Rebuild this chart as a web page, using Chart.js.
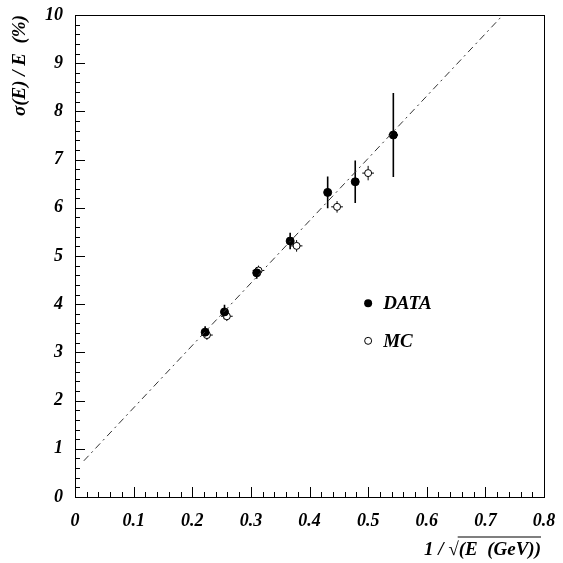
<!DOCTYPE html>
<html>
<head>
<meta charset="utf-8">
<script src="https://cdn.jsdelivr.net/npm/chart.js@4"></script>
<style>
html, body { margin: 0; padding: 0; background: #fff; }
</style>
</head>
<body>
<canvas id="resChart" width="563" height="563"></canvas>
<script>
// values
const dataX = [0.222, 0.255, 0.310, 0.367, 0.431, 0.478, 0.543];
const dataY = [3.42, 3.84, 4.65, 5.31, 6.32, 6.54, 7.51];
const dataYErr = [0.12, 0.15, 0.12, 0.17, 0.33, 0.44, 0.87];
const dataXErr = [0.006, 0.006, 0.006, 0.006, 0.006, 0.006, 0.008];

const mcX = [0.225, 0.259, 0.313, 0.378, 0.447, 0.500];
const mcY = [3.36, 3.75, 4.70, 5.21, 6.02, 6.72];
const mcYErr = [0.10, 0.10, 0.10, 0.12, 0.12, 0.15];
const mcXErr = [0.010, 0.010, 0.010, 0.010, 0.010, 0.010];

// fitted line, end points
const fitX = [0.015, 0.73];
const fitY = [0.75, 10.0];

const xTicks = [0, 0.1, 0.2, 0.3, 0.4, 0.5, 0.6, 0.7, 0.8];
const yTicks = [0, 1, 2, 3, 4, 5, 6, 7, 8, 9, 10];

const legendItems = ['DATA', 'MC'];

const serif = '"Liberation Serif", "DejaVu Serif", serif';

function pairs(xs, ys) {
    return xs.map((x, i) => ({ x: x, y: ys[i] }));
}

const errorBars = {
    id: 'errorBars',
    beforeDatasetsDraw(chart) {
        const ctx = chart.ctx;
        const xs = chart.scales.x, ys = chart.scales.y;
        ctx.save();
        ctx.strokeStyle = '#000';
        chart.data.datasets.forEach(ds => {
            if (!ds.yErr) return;
            ctx.lineWidth = ds.errWidth;
            ds.data.forEach((p, i) => {
                const px = xs.getPixelForValue(p.x);
                const py = ys.getPixelForValue(p.y);
                ctx.beginPath();
                ctx.moveTo(px, ys.getPixelForValue(p.y - ds.yErr[i]));
                ctx.lineTo(px, ys.getPixelForValue(p.y + ds.yErr[i]));
                ctx.moveTo(xs.getPixelForValue(p.x - ds.xErr[i]), py);
                ctx.lineTo(xs.getPixelForValue(p.x + ds.xErr[i]), py);
                ctx.stroke();
            });
        });
        ctx.restore();
    }
};

const frameAndExtras = {
    id: 'frameAndExtras',
    afterDraw(chart) {
        const ctx = chart.ctx;
        const xs = chart.scales.x, ys = chart.scales.y;
        const a = chart.chartArea;
        ctx.save();
        ctx.strokeStyle = '#000';
        ctx.lineWidth = 1;
        ctx.strokeRect(Math.round(a.left) + 0.5, Math.round(a.top) + 0.5,
            Math.round(a.right - a.left), Math.round(a.bottom - a.top));

        // inward ticks on left and bottom
        ctx.beginPath();
        for (let i = 0; i <= 50; i++) {
            const py = Math.round(ys.getPixelForValue(i * 0.2)) + 0.5;
            const len = i % 5 === 0 ? 10 : 5;
            ctx.moveTo(a.left, py);
            ctx.lineTo(a.left + len, py);
        }
        for (let i = 0; i <= 40; i++) {
            const px = Math.round(xs.getPixelForValue(i * 0.02)) + 0.5;
            const len = i % 5 === 0 ? 10 : 5;
            ctx.moveTo(px, a.bottom);
            ctx.lineTo(px, a.bottom - len);
        }
        ctx.stroke();

        // legend inside the plot
        ctx.font = 'bold italic 19px ' + serif;
        ctx.textBaseline = 'middle';
        ctx.textAlign = 'left';
        const lx = xs.getPixelForValue(0.50);
        const ly = [ys.getPixelForValue(4.02), ys.getPixelForValue(3.24)];
        ctx.fillStyle = '#000';
        ctx.beginPath();
        ctx.arc(lx, ly[0], 4, 0, Math.PI * 2);
        ctx.fill();
        ctx.beginPath();
        ctx.arc(lx, ly[1], 3.5, 0, Math.PI * 2);
        ctx.fillStyle = '#fff';
        ctx.fill();
        ctx.stroke();
        ctx.fillStyle = '#000';
        ctx.fillText(legendItems[0], lx + 15, ly[0] + 1);
        ctx.fillText(legendItems[1], lx + 15, ly[1] + 1);

        // x axis title with a radical overline
        ctx.font = 'bold italic 19px ' + serif;
        const pre = '1 / ', rad = '\u221A', body = '(E  (GeV))';
        const wPre = ctx.measureText(pre).width;
        const wRad = ctx.measureText(rad).width;
        const wBody = ctx.measureText(body).width;
        const x0 = a.right - 3 - wPre - wRad - wBody;
        const ty = 555;
        ctx.textBaseline = 'alphabetic';
        ctx.fillText(pre, x0, ty);
        ctx.fillText(rad, x0 + wPre, ty);
        ctx.fillText(body, x0 + wPre + wRad, ty);
        ctx.lineWidth = 1.2;
        ctx.beginPath();
        ctx.moveTo(x0 + wPre + wRad - 1, ty - 18);
        ctx.lineTo(x0 + wPre + wRad + wBody, ty - 18);
        ctx.stroke();
        ctx.restore();
    }
};

const ctx1 = document.getElementById('resChart').getContext('2d');
new Chart(ctx1, {
    type: 'scatter',
    data: {
        datasets: [
            {
                type: 'line',
                label: 'fit',
                data: pairs(fitX, fitY),
                borderColor: '#333',
                borderWidth: 1,
                borderDash: [7, 4, 2, 4],
                pointRadius: 0,
                fill: false
            },
            {
                label: 'DATA',
                data: pairs(dataX, dataY),
                yErr: dataYErr,
                xErr: dataXErr,
                errWidth: 1.6,
                pointStyle: 'circle',
                pointRadius: 4,
                backgroundColor: '#000',
                borderColor: '#000',
                borderWidth: 1
            },
            {
                label: 'MC',
                data: pairs(mcX, mcY),
                yErr: mcYErr,
                xErr: mcXErr,
                errWidth: 1,
                pointStyle: 'circle',
                pointRadius: 3.5,
                backgroundColor: '#fff',
                borderColor: '#000',
                borderWidth: 1
            }
        ]
    },
    options: {
        responsive: false,
        animation: false,
        layout: { padding: { left: 0, right: 19, top: 15, bottom: 0 } },
        plugins: {
            legend: { display: false },
            tooltip: { enabled: false }
        },
        scales: {
            x: {
                type: 'linear',
                min: 0,
                max: 0.8,
                grid: { display: false },
                border: { display: false },
                afterFit: s => { s.height = 66; },
                afterBuildTicks: s => { s.ticks = xTicks.map(v => ({ value: v })); },
                ticks: {
                    padding: 6,
                    color: '#000',
                    font: { family: serif, size: 18, style: 'italic', weight: 'bold' },
                    callback: v => (v === 0 ? '0' : v.toFixed(1))
                }
            },
            y: {
                type: 'linear',
                min: 0,
                max: 10,
                grid: { display: false },
                border: { display: false },
                afterFit: s => { s.width = 75; },
                afterBuildTicks: s => { s.ticks = yTicks.map(v => ({ value: v })); },
                ticks: {
                    padding: 4,
                    color: '#000',
                    font: { family: serif, size: 18, style: 'italic', weight: 'bold' }
                },
                title: {
                    display: true,
                    text: '\u03C3(E) / E  (%)',
                    align: 'end',
                    color: '#000',
                    padding: { top: 9, bottom: 0 },
                    font: { family: serif, size: 19, style: 'italic', weight: 'bold' }
                }
            }
        }
    },
    plugins: [errorBars, frameAndExtras]
});
</script>
</body>
</html>
